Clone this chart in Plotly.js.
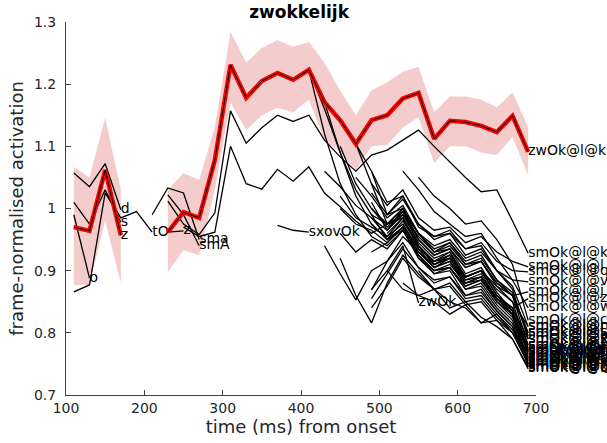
<!DOCTYPE html>
<html><head><meta charset="utf-8">
<script src="https://cdn.plot.ly/plotly-3.0.1.min.js"></script>
<style>html,body{margin:0;padding:0;background:#fff}</style>
</head><body><div id="chart" style="width:607px;height:443px"></div>
<script>
const times = [110,130,150,170,190,210,230,250,270,290,310,330,350,370,390,410,430,450,470,490,510,530,550,570,590,610,630,650,670,690];
const meanValues = [0.970,0.964,1.062,0.957,null,null,0.962,0.994,0.985,1.078,1.231,1.178,1.205,1.218,1.207,1.223,1.171,1.142,1.104,1.142,1.150,1.177,1.186,1.112,1.141,1.139,1.133,1.123,1.149,1.091];
const bandUpper = [1.067,1.050,1.146,1.030,null,null,1.030,1.057,1.046,1.131,1.284,1.235,1.258,1.271,1.260,1.268,1.234,1.190,1.150,1.190,1.203,1.220,1.228,1.155,1.180,1.180,1.175,1.163,1.187,1.130];
const bandLower = [0.877,0.877,0.980,0.880,null,null,0.898,0.933,0.925,1.030,1.170,1.126,1.150,1.162,1.155,1.175,1.110,1.091,1.062,1.100,1.102,1.130,1.147,1.073,1.100,1.100,1.090,1.086,1.115,1.054];
const meanLabel = 'zwOk@l@k';

const wordStarts = [110,110,110,110,110,210,230,230,230,250,370,410,410,470,470,430,450,450,490,490,490,490,490,490,510,510,430,450,490,490,490,490,530,510,550,530,490,510,470,530,450,550,490,430,450,490];
const wordLabels = ['o','d','s','z','tO','sma','smA','z','smOk@l@k','smOk@l@t','sxovOk','smOk@l@s','sm0k@l@k','smok@l@k','smOk@l@x','smOk@l@n','smOk@l@e','smOk@l@d','smOk@l@k','sm0k@l@t','smOk@l@a','smok@l@s','smOk@l@r','smOk@l@m','smOk@l@i','smOk@l@o','smOk@l@u','smOk@l@y','zwOk','smOk@l@p','smOk@l@f','smOk@l@g','smOk@l@h','smOk@l@b','smOk@l@c','smOk@l@w','smOk@l@l','smOk@l@q','smOk@l@v','smOk@l@j','smOk@l@z','smOk@l@@','sm0k@l@s','smOk@l@E','smOk@l@A','smOk@l@I'];
const wordValues = [
  [0.990,0.888],
  [1.057,1.035,1.072,0.998],
  [1.010,0.975,1.030,0.978],
  [0.972,0.963,1.058,0.957],
  [0.866,0.877,1.025,0.985,0.995,0.962],
  [0.990,1.033,1.025,0.950],
  [1.022,0.990,0.940],
  [0.962,0.964],
  [1.012,0.975,0.958,0.993,1.157,1.105,1.130,1.150,1.140,1.150,1.110,1.083,1.060,1.086,1.094,1.110,1.126,1.100,1.075,1.050,1.027,1.030,0.980,0.928],
  [0.970,0.955,0.962,1.100,1.040,1.031,1.063,1.044,1.067,1.025,1.003,0.980,0.960,0.975,1.000,0.960,0.930,0.935,0.905,0.915,0.880,0.860,0.800],
  [0.973,0.965,0.962],
  [1.223,1.160,1.090,1.030,0.990,0.975,0.990,0.955,0.930,0.945,0.915,0.925,0.885,0.860,0.800],
  [1.223,1.120,1.040,0.990,0.955,0.940,0.965,0.925,0.900,0.905,0.875,0.885,0.850,0.825,0.770],
  [1.104,1.040,0.975,0.985,0.940,0.915,0.930,0.890,0.900,0.860,0.835,0.765],
  [1.104,1.060,1.010,1.020,0.970,0.955,0.960,0.935,0.940,0.900,0.870,0.790],
  [1.060,1.035,1.005,0.985,0.965,1.000,0.950,0.925,0.935,0.905,0.915,0.875,0.850,0.810],
  [1.020,0.985,0.970,0.955,0.985,0.935,0.905,0.920,0.885,0.895,0.855,0.835,0.775],
  [1.000,0.975,0.965,0.945,0.970,0.920,0.895,0.905,0.870,0.880,0.845,0.820,0.760],
  [1.010,0.965,0.990,0.945,0.920,0.930,0.890,0.900,0.860,0.840,0.780],
  [0.985,0.955,0.975,0.930,0.905,0.915,0.875,0.885,0.850,0.830,0.770],
  [1.000,0.975,1.000,0.960,0.935,0.945,0.910,0.920,0.885,0.865,0.795],
  [0.975,0.950,0.965,0.920,0.900,0.905,0.870,0.875,0.840,0.815,0.755],
  [1.025,0.990,1.020,0.975,0.950,0.960,0.925,0.935,0.900,0.875,0.810],
  [0.990,0.950,0.970,0.925,0.895,0.900,0.860,0.870,0.835,0.810,0.748],
  [0.965,0.995,0.950,0.925,0.935,0.895,0.905,0.865,0.835,0.750],
  [0.960,0.985,0.940,0.910,0.920,0.885,0.890,0.855,0.830,0.745],
  [0.940,0.895,0.853,0.900,0.915,0.945,0.905,0.880,0.890,0.860,0.865,0.835,0.810,0.760],
  [0.920,0.860,0.816,0.880,0.925,0.895,0.870,0.880,0.850,0.855,0.825,0.800,0.752],
  [0.870,0.900,0.940,0.848],
  [0.869,0.915,0.955,0.930,0.905,0.915,0.880,0.890,0.855,0.830,0.757],
  [0.855,0.895,0.935,0.905,0.885,0.890,0.855,0.860,0.830,0.805,0.762],
  [0.840,0.875,0.920,0.890,0.870,0.875,0.845,0.850,0.820,0.800,0.768],
  [0.880,0.860,0.850,0.830,0.845,0.816,0.830,0.800,0.750],
  [0.900,0.870,0.860,0.870,0.840,0.850,0.825,0.810,0.790,0.742],
  [1.050,1.020,1.000,0.975,0.980,0.950,0.910,0.820],
  [1.060,1.030,0.995,0.975,0.955,0.960,0.920,0.885,0.840],
  [1.040,1.005,1.030,0.985,0.965,0.970,0.945,0.955,0.930,0.915,0.906],
  [0.990,1.015,0.975,0.955,0.965,0.935,0.945,0.915,0.900,0.898],
  [1.050,1.020,0.985,1.005,0.960,0.940,0.950,0.920,0.930,0.900,0.885,0.882],
  [0.975,0.935,0.915,0.920,0.890,0.900,0.875,0.860,0.866],
  [0.960,0.930,0.950,0.935,0.965,0.925,0.900,0.910,0.880,0.885,0.855,0.840,0.855],
  [0.900,0.870,0.850,0.840,0.816,0.820,0.790,0.745],
  [0.930,0.945,0.970,0.930,0.910,0.925,0.890,0.900,0.870,0.850,0.772],
  [1.171,1.090,1.020,0.975,0.950,0.980,0.940,0.915,0.925,0.890,0.900,0.860,0.840,0.790],
  [1.100,1.040,1.000,0.970,0.995,0.960,0.930,0.940,0.910,0.915,0.880,0.860,0.780],
  [1.060,0.990,1.000,0.940,0.910,0.920,0.880,0.890,0.855,0.830,0.775]
];

const FONT = 'DejaVu Sans, sans-serif';
const traces = [];

// confidence band, one polygon per contiguous segment
let seg = [];
const flush = () => {
  if (seg.length) {
    const xs = seg.map(i => times[i]);
    const up = seg.map(i => bandUpper[i]);
    const lo = seg.map(i => bandLower[i]);
    traces.push({x: xs.concat(xs.slice().reverse()), y: up.concat(lo.slice().reverse()),
      type: 'scatter', mode: 'lines', fill: 'toself', fillcolor: '#f4cccc',
      line: {width: 0, color: 'rgba(0,0,0,0)'}, hoverinfo: 'skip', showlegend: false});
  }
  seg = [];
};
times.forEach((t, i) => { if (bandUpper[i] === null) flush(); else seg.push(i); });
flush();

// word lines
wordValues.forEach((vals, k) => {
  const i0 = times.indexOf(wordStarts[k]);
  const xs = times.slice(i0, i0 + vals.length);
  const txt = vals.map((v, j) => j === vals.length - 1 ? wordLabels[k] : '');
  traces.push({x: xs, y: vals, type: 'scatter', mode: 'lines+text', text: txt,
    textposition: 'middle right', cliponaxis: false,
    textfont: {family: FONT, size: 14, color: '#000'},
    line: {color: '#000', width: 1.3}, showlegend: false, hoverinfo: 'skip'});
});

// mean line
traces.push({x: times, y: meanValues, type: 'scatter', mode: 'lines', connectgaps: false,
  line: {color: '#ff0000', width: 4.5}, showlegend: false, hoverinfo: 'skip'});
let lastIdx = meanValues.length - 1;
traces.push({x: times, y: meanValues, type: 'scatter', mode: 'lines+text', connectgaps: false,
  text: meanValues.map((v, i) => i === lastIdx ? meanLabel : ''), textposition: 'middle right',
  cliponaxis: false, textfont: {family: FONT, size: 14, color: '#000'},
  line: {color: '#000', width: 1}, showlegend: false, hoverinfo: 'skip'});

const axisCommon = {showgrid: false, zeroline: false, showline: true, linecolor: '#404040', linewidth: 1,
  ticks: 'inside', ticklen: 5, tickcolor: '#404040', tickfont: {family: FONT, size: 14, color: '#262626'},
  mirror: false, automargin: false};

const layout = {
  width: 607, height: 443,
  margin: {l: 66, r: 71, t: 22, b: 48},
  paper_bgcolor: '#fff', plot_bgcolor: '#fff',
  font: {family: FONT, color: '#262626'},
  title: {text: '<b>zwokkelijk</b>', font: {family: FONT, size: 17, color: '#000'},
    x: 0.4959, xref: 'paper', xanchor: 'center', y: 0.972, yref: 'container', yanchor: 'middle'},
  xaxis: Object.assign({}, axisCommon, {range: [100, 700], tickvals: [100,200,300,400,500,600,700],
    title: {text: 'time (ms) from onset', font: {family: FONT, size: 18, color: '#262626'}, standoff: 2}}),
  yaxis: Object.assign({}, axisCommon, {range: [0.7, 1.3], tickvals: [0.7,0.8,0.9,1.0,1.1,1.2,1.3],
    ticktext: ['0.7','0.8','0.9','1','1.1','1.2','1.3'], ticklabelstandoff: 6,
    title: {text: 'frame-normalised activation', font: {family: FONT, size: 18, color: '#262626'}, standoff: 5}})
};

Plotly.newPlot('chart', traces, layout, {staticPlot: true, displayModeBar: false});
</script></body></html>
